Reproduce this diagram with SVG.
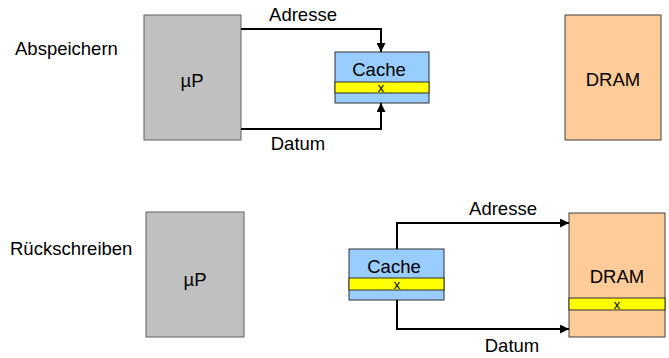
<svg xmlns="http://www.w3.org/2000/svg" width="669" height="358" viewBox="0 0 669 358">
<defs>
<marker id="ah" viewBox="0 0 10 10" refX="10" refY="5" markerWidth="9" markerHeight="9" markerUnits="userSpaceOnUse" orient="auto">
<path d="M0,0 L10,5 L0,10 z" fill="#000"/>
</marker>
</defs>
<style>
text{font-family:"Liberation Sans",Arial,sans-serif;font-size:18.5px;fill:#000}
.sm{font-size:13px}
.mid{text-anchor:middle}
.cpu{fill:#C0C0C0;stroke:#606060;stroke-width:1}
.dram{fill:#FFCC99;stroke:#404040;stroke-width:1}
.cache{fill:#99CCFF;stroke:#303030;stroke-width:1}
.line{fill:#FFFF00;stroke:#303030;stroke-width:1}
.conn{fill:none;stroke:#000;stroke-width:2;marker-end:url(#ah)}
</style>
<text x="15" y="55">Abspeichern</text>
<text x="10" y="255">Rückschreiben</text>
<g id="cpu1"><rect class="cpu" x="144" y="15" width="97" height="125"/><text class="mid" x="192" y="87">µP</text></g>
<g id="cache1"><rect class="cache" x="335" y="52" width="94" height="51"/><rect class="line" x="335" y="82" width="94" height="11"/><text class="mid" x="379" y="76">Cache</text><text class="mid sm" x="381" y="92">x</text></g>
<g id="dram1"><rect class="dram" x="565" y="15" width="96" height="125"/><text class="mid" x="613" y="86">DRAM</text></g>
<g id="cpu2"><rect class="cpu" x="146" y="212" width="98" height="125"/><text class="mid" x="195" y="286">µP</text></g>
<g id="cache2"><rect class="cache" x="349" y="249" width="95" height="51"/><rect class="line" x="349" y="278" width="95" height="12"/><text class="mid" x="394" y="273">Cache</text><text class="mid sm" x="397" y="289">x</text></g>
<g id="dram2"><rect class="dram" x="569" y="213" width="96" height="124"/><rect class="line" x="569" y="298" width="96" height="12"/><text class="mid" x="617" y="283">DRAM</text><text class="mid sm" x="617" y="309">x</text></g>
<g id="connectors">
<path class="conn" d="M241,29 H381 V52"/>
<path class="conn" d="M241,129 H381 V103"/>
<path class="conn" d="M397,249 V223 H569"/>
<path class="conn" d="M397,300 V329 H569"/>
<text class="mid" x="303" y="21">Adresse</text>
<text class="mid" x="298" y="150">Datum</text>
<text class="mid" x="503" y="215">Adresse</text>
<text class="mid" x="512" y="352">Datum</text>
</g>
</svg>
